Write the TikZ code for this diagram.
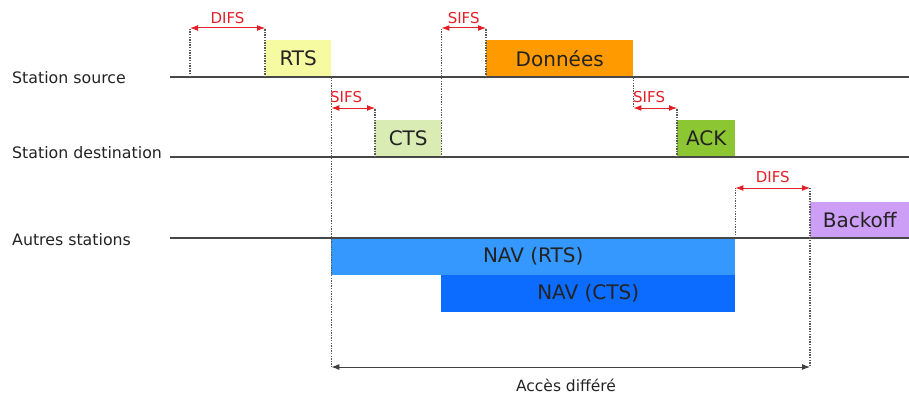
\documentclass[tikz,border=0pt]{standalone}
\usepackage{fontspec}
\setmainfont{DejaVu Sans}
\usetikzlibrary{arrows.meta}

\definecolor{rtsyellow}{RGB}{246,250,160}
\definecolor{ctsgreen}{RGB}{216,236,180}
\definecolor{dataorange}{RGB}{255,154,0}
\definecolor{ackgreen}{RGB}{140,198,50}
\definecolor{backoffpurple}{RGB}{204,158,245}
\definecolor{navlight}{RGB}{52,152,255}
\definecolor{navdark}{RGB}{12,108,255}
\definecolor{gapred}{RGB}{226,32,40}
\definecolor{ink}{RGB}{35,35,35}

\begin{document}
\begin{tikzpicture}[x=1pt,y=-1pt,
  timeline/.style={draw=black!72, line width=1.7pt},
  guide/.style={draw=black!65, line width=1.1pt, dash pattern=on 1.4pt off 1.2pt},
  gap/.style={draw=gapred, line width=1pt, {Latex[length=8pt,width=6pt]}-{Latex[length=8pt,width=6pt]}},
  span/.style={draw=black!75, line width=1pt, {Latex[length=8pt,width=6pt]}-{Latex[length=8pt,width=6pt]}},
  gaplabel/.style={text=gapred, inner sep=0pt, font=\fontsize{15}{15}\selectfont},
  framebox/.style={rectangle, inner sep=0pt, anchor=north west, text=ink, font=\fontsize{20}{20}\selectfont},
  rowlabel/.style={anchor=west, inner sep=0pt, text=ink, font=\fontsize{15.8}{16}\selectfont},
]
\useasboundingbox (0,0) rectangle (909,396);

% row labels
\node[rowlabel] (lsrc) at (12,78) {Station source};
\node[rowlabel] (ldst) at (12,153) {Station destination};
\node[rowlabel] (loth) at (12,240) {Autres stations};

% frames on the three timelines
\node[framebox, fill=rtsyellow, minimum width=66pt, minimum height=37pt] (rts) at (265,40) {RTS};
\node[framebox, fill=dataorange, minimum width=147pt, minimum height=37pt] (data) at (486,40) {Données};
\node[framebox, fill=ctsgreen, minimum width=66pt, minimum height=37pt] (cts) at (375,120) {CTS};
\node[framebox, fill=ackgreen, minimum width=58pt, minimum height=37pt] (ack) at (677,120) {ACK};
\node[framebox, fill=backoffpurple, minimum width=99pt, minimum height=36pt] (backoff) at (810,202) {Backoff};
\node[framebox, fill=navlight, minimum width=404pt, minimum height=37pt] (navrts) at (331,238) {NAV (RTS)};
\node[framebox, fill=navdark, minimum width=294pt, minimum height=37pt] (navcts) at (441,275) {NAV (CTS)};

% timelines
\coordinate (srcL) at (170,77);  \coordinate (srcR) at (909,77);
\coordinate (dstL) at (170,157); \coordinate (dstR) at (909,157);
\coordinate (othL) at (170,238); \coordinate (othR) at (909,238);
\draw[timeline] (srcL) -- (srcR);
\draw[timeline] (dstL) -- (dstR);
\draw[timeline] (othL) -- (othR);

% levels of the interframe spacing arrows
\coordinate (topgap) at (0,28);
\coordinate (midgap) at (0,108);
\coordinate (lowgap) at (0,188);
\coordinate (deferred) at (0,367);
\coordinate (difsstart) at (190,77);

% DIFS before RTS
\draw[guide] (difsstart) -- (difsstart |- topgap);
\draw[guide] (rts.south west) -- (rts.south west |- topgap);
\draw[gap] (difsstart |- topgap) -- (rts.south west |- topgap)
  node[gaplabel, midway, yshift=10pt] {DIFS};

% SIFS before CTS
\draw[guide] (rts.south east) -- (rts.south east |- deferred);
\draw[guide] (cts.south west) -- (cts.south west |- midgap);
\draw[gap] (rts.south east |- midgap) -- (cts.south west |- midgap);
\node[gaplabel, anchor=west] (sifs1) at (330,97) {SIFS};

% SIFS before data
\draw[guide] (cts.south east) -- (cts.south east |- topgap);
\draw[guide] (data.south west) -- (data.south west |- topgap);
\draw[gap] (cts.south east |- topgap) -- (data.south west |- topgap)
  node[gaplabel, midway, yshift=10pt] {SIFS};

% SIFS before ACK
\draw[guide] (data.south east) -- (data.south east |- midgap);
\draw[guide] (ack.south west) -- (ack.south west |- midgap);
\draw[gap] (data.south east |- midgap) -- (ack.south west |- midgap);
\node[gaplabel, anchor=west] (sifs3) at (633,97) {SIFS};

% DIFS before backoff
\draw[guide] (navrts.north east) -- (navrts.north east |- lowgap);
\draw[guide] (backoff.south west |- lowgap) -- (backoff.south west |- deferred);
\draw[gap] (navrts.north east |- lowgap) -- (backoff.south west |- lowgap)
  node[gaplabel, midway, yshift=11pt] {DIFS};

% deferred access
\draw[span] (rts.south east |- deferred) -- (backoff.south west |- deferred);
\node[inner sep=0pt, text=ink, font=\fontsize{15.5}{16}\selectfont] (acces) at (566,385) {Accès différé};
\end{tikzpicture}
\end{document}
